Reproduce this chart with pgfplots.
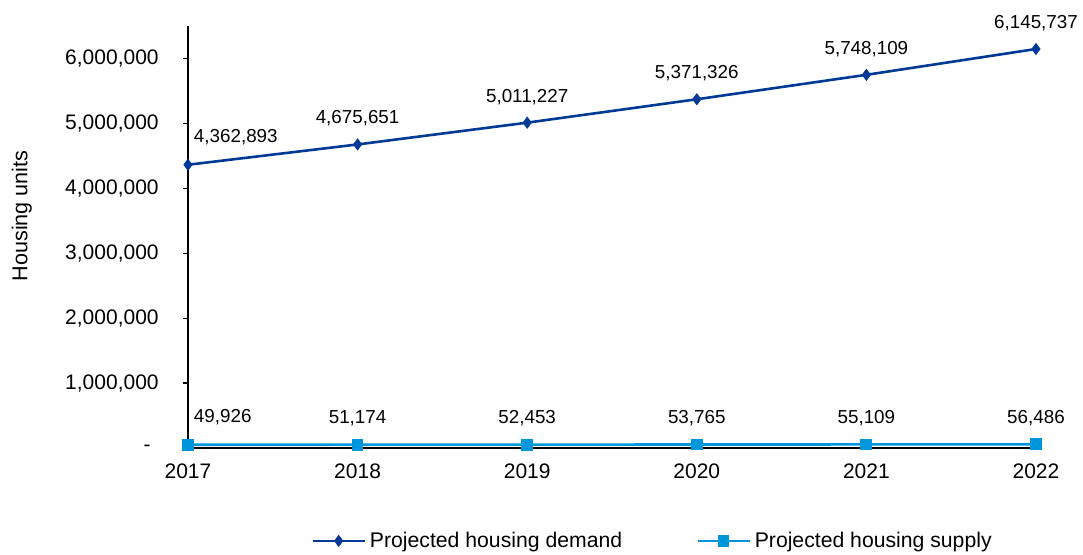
\documentclass[border=0pt]{standalone}
\usepackage{fontspec}
\setmainfont{Liberation Sans}
\usepackage{pgfplots}
\usepackage{pgfplotstable}
\pgfplotsset{compat=1.18}
\definecolor{demand}{HTML}{003A96}
\definecolor{supply}{HTML}{0096DC}
\newcommand\firstlab[1]{\makebox[0pt][l]{\hspace{3pt}\raisebox{3pt}{#1}}}
\pgfplotstableread{
x y lab
2017 4362893 \firstlab{4,362,893}
2018 4675651 4,675,651
2019 5011227 5,011,227
2020 5371326 5,371,326
2021 5748109 5,748,109
2022 6145737 6,145,737
}\demandtab
\pgfplotstableread{
x y lab
2017 49926 \firstlab{49,926}
2018 51174 51,174
2019 52453 52,453
2020 53765 53,765
2021 55109 55,109
2022 56486 56,486
}\supplytab
\begin{document}
\begin{tikzpicture}
\useasboundingbox (-94pt,-53pt) rectangle (447.5pt,224pt);
\begin{axis}[
  at={(0,0)}, anchor=south west,
  scale only axis, width=424pt, height=211pt,
  xmin=2017, xmax=2022, ymin=0, ymax=6500000,
  scaled y ticks=false,
  axis x line*=bottom, axis y line*=left,
  axis line style={line width=0.6pt, -},
  xtick={2017,2018,2019,2020,2021,2022},
  xticklabels={2017,2018,2019,2020,2021,2022},
  ytick={0,1000000,2000000,3000000,4000000,5000000,6000000},
  yticklabels={{\makebox[7.5pt][l]{-}},{1,000,000},{2,000,000},{3,000,000},{4,000,000},{5,000,000},{6,000,000}},
  tick align=outside, major tick length=2.5pt,
  tick style={line width=0.6pt, black},
  xtick style={draw=none},
  ticklabel style={font=\fontsize{10.5}{12}\selectfont},
  xticklabel style={inner sep=0pt, anchor=north, yshift=-5pt},
  yticklabel style={inner sep=0pt, anchor=east, xshift=-12pt},
  ylabel={Housing units},
  ylabel style={font=\fontsize{10.8}{12}\selectfont, at={(axis description cs:-0.196,0.55)}, anchor=center, rotate=0},
  clip=false,
  legend style={at={(axis description cs:0.549,-0.22)}, anchor=center, draw=none, fill=none,
    font=\fontsize{10.6}{12}\selectfont, /tikz/every even column/.append style={column sep=35pt}},
  legend columns=2,
  legend image code/.code={\draw[mark repeat=2,mark phase=2] plot coordinates {(0pt,0pt)(13pt,0pt)(26pt,0pt)};},
  point meta=explicit symbolic,
  nodes near coords,
  every node near coord/.append style={font=\fontsize{9.4}{11}\selectfont, inner sep=0pt, anchor=center, yshift=13pt, text=black},
]
\addplot[color=demand, line width=1.3pt, mark=diamond*, mark size=2pt, mark options={solid}] table[x=x, y=y, meta=lab] {\demandtab};
\addlegendentry{Projected housing demand}
\addplot[color=supply, line width=1.3pt, mark=square*, mark size=2.3pt, mark options={solid}] table[x=x, y=y, meta=lab] {\supplytab};
\addlegendentry{Projected housing supply}
\end{axis}
\end{tikzpicture}
\end{document}
